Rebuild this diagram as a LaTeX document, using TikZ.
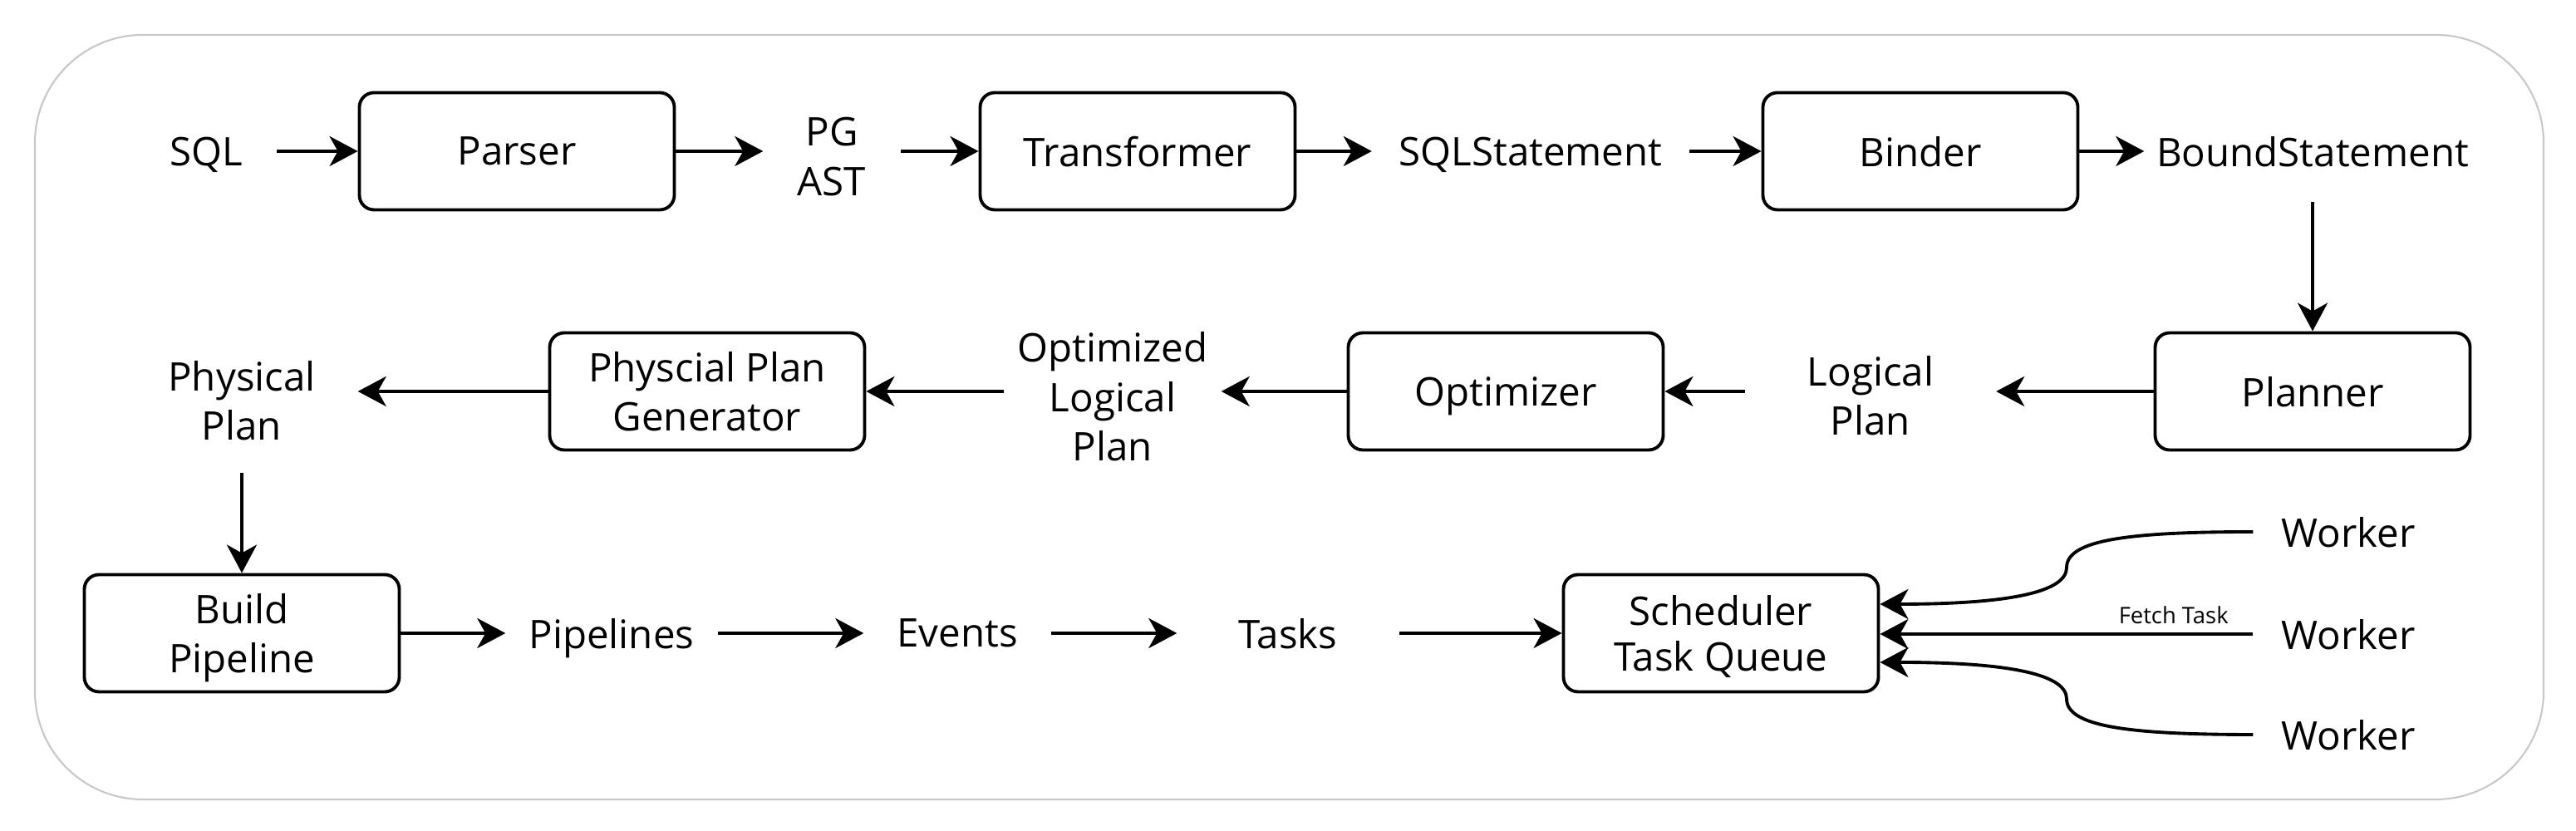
\documentclass[tikz,border=0pt]{standalone}
\usepackage{fontspec}
\setmainfont{Open Sans}
\usepackage{xcolor}
\usepackage{tikz}
\usetikzlibrary{arrows.meta, positioning, calc}
\definecolor{FrameGray}{RGB}{200, 200, 200}

\tikzset{
  stagebox/.style={draw=black, line width=1.1pt, rounded corners=5pt, minimum width=3.79cm,
    minimum height=1.41cm, align=center, inner sep=0pt, text depth=0pt,
    font=\fontsize{13.5}{17}\selectfont},
  flowlabel/.style={inner sep=0pt, align=center, text depth=0pt, font=\fontsize{13.5}{17}\selectfont},
  flow/.style={line width=1.1pt, -{Stealth[length=0.34cm, width=0.36cm, inset=0.1cm]}}
}

\begin{document}
\begin{tikzpicture}
    \useasboundingbox (0,0) rectangle (31,10);
    \draw[FrameGray, line width=0.6pt, rounded corners=1.3cm] (0.42,0.38) rectangle (30.61,9.58);

    % query front end
    \node[flowlabel, minimum width=1.68cm] (sql) at (2.48,8.18) {SQL};
    \node[stagebox] (parser) at (6.22,8.18) {Parser};
    \node[flowlabel, minimum width=1.64cm] (pgast) at (10.01,8.12) {PG\\AST};
    \node[stagebox] (transformer) at (13.69,8.18) {Transformer};
    \node[flowlabel, minimum width=3.81cm] (sqlstmt) at (18.42,8.18) {SQLStatement};
    \node[stagebox] (binder) at (23.11,8.18) {Binder};
    \node[flowlabel, minimum width=4.04cm, minimum height=1.2cm] (boundstmt) at (27.83,8.18) {BoundStatement};

    % planning
    \node[stagebox] (planner) at (27.83,5.29) {Planner};
    \node[flowlabel, minimum width=3.01cm] (logical) at (22.51,5.24) {Logical\\Plan};
    \node[stagebox] (optimizer) at (18.12,5.29) {Optimizer};
    \node[flowlabel, minimum width=2.60cm] (optlogical) at (13.39,5.23) {Optimized\\Logical\\Plan};
    \node[stagebox] (physgen) at (8.51,5.29) {Physcial Plan\\Generator};
    \node[flowlabel, minimum width=2.78cm, minimum height=1.72cm] (physical) at (2.91,5.18) {Physical\\Plan};

    % execution
    \node[stagebox] (build) at (2.91,2.38) {Build\\Pipeline};
    \node[flowlabel, minimum width=2.54cm] (pipelines) at (7.36,2.38) {Pipelines};
    \node[flowlabel, minimum width=2.24cm] (events) at (11.52,2.38) {Events};
    \node[flowlabel, minimum width=2.66cm] (tasks) at (15.50,2.38) {Tasks};
    \node[stagebox, font=\fontsize{13.5}{15.5}\selectfont] (sched) at (20.71,2.38) {Scheduler\\Task Queue};
    \node[flowlabel, minimum width=2.28cm] (w1) at (28.26,3.60) {Worker};
    \node[flowlabel, minimum width=2.28cm] (w2) at (28.26,2.37) {Worker};
    \node[flowlabel, minimum width=2.28cm] (w3) at (28.26,1.16) {Worker};

    \draw[flow] (sql.east) -- (parser.west);
    \draw[flow] (parser.east) -- (parser.east -| pgast.west);
    \draw[flow] (transformer.west -| pgast.east) -- (transformer.west);
    \draw[flow] (transformer.east) -- (sqlstmt.west);
    \draw[flow] (sqlstmt.east) -- (binder.west);
    \draw[flow] (binder.east) -- (boundstmt.west);
    \draw[flow] (boundstmt.south) -- (planner.north);

    \draw[flow] (planner.west) -- (planner.west -| logical.east);
    \draw[flow] (optimizer.east -| logical.west) -- (optimizer.east);
    \draw[flow] (optimizer.west) -- (optimizer.west -| optlogical.east);
    \draw[flow] (physgen.east -| optlogical.west) -- (physgen.east);
    \draw[flow] (physgen.west) -- (physgen.west -| physical.east);
    \draw[flow] (physical.south) -- (build.north);

    \draw[flow] (build.east) -- (pipelines.west);
    \draw[flow] (pipelines.east) -- (events.west);
    \draw[flow] (events.east) -- (tasks.west);
    \draw[flow] (tasks.east) -- (sched.west);

    \draw[flow] (w1.west) .. controls (25.60,3.60) and (24.87,3.50) .. (24.87,3.17)
        .. controls (24.87,2.88) and (24.20,2.73) .. ([yshift=0.35cm]sched.east);
    \draw[flow] (w2.west) -- (w2.west -| sched.east)
        node[pos=0.213, above, inner sep=3pt, font=\fontsize{7.8}{9}\selectfont] {Fetch Task};
    \draw[flow] (w3.west) .. controls (25.60,1.16) and (24.87,1.26) .. (24.87,1.59)
        .. controls (24.87,1.88) and (24.20,2.03) .. ([yshift=-0.35cm]sched.east);
  \end{tikzpicture}
\end{document}
